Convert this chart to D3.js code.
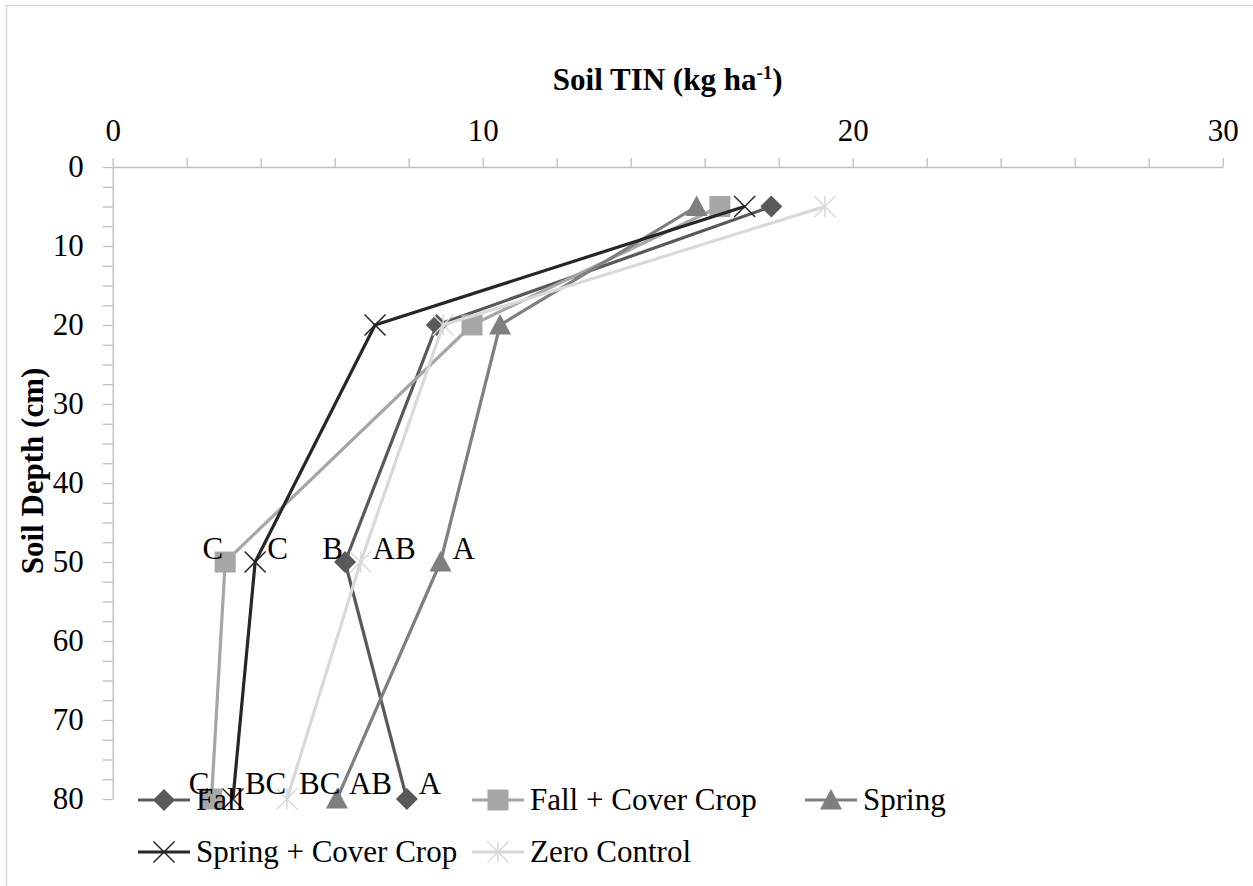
<!DOCTYPE html>
<html>
<head>
<meta charset="utf-8">
<script src="https://cdn.jsdelivr.net/npm/d3@7"></script>
<style>
  body { margin: 0; background: #fff; }
  svg { display: block; font-family: "Liberation Serif", "Times New Roman", serif; }
  .axis path, .axis line { stroke: #bfbfbf; stroke-width: 1.3; }
  .axis text { font-size: 31px; fill: #000; font-family: "Liberation Serif", serif; }
</style>
</head>
<body>
<svg id="chart" width="1253" height="886"></svg>
<script>
const depths = [5, 20, 50, 80];
const seriesNames = ["Fall", "Fall + Cover Crop", "Spring", "Spring + Cover Crop", "Zero Control"];
const fallTin = [17.8, 8.76, 6.28, 7.95];
const fallCcTin = [16.41, 9.71, 3.04, 2.67];
const springTin = [15.78, 10.47, 8.86, 6.06];
const springCcTin = [17.08, 7.09, 3.85, 3.25];
const zeroTin = [19.25, 8.93, 6.7, 4.71];
const xTicks = [0, 10, 20, 30];
const yTicks = [0, 10, 20, 30, 40, 50, 60, 70, 80];
// significance letters: [series index, depth index, letter]
const letters = [
  [1, 2, "C"], [3, 2, "C"], [0, 2, "B"], [4, 2, "AB"], [2, 2, "A"],
  [1, 3, "C"], [3, 3, "BC"], [4, 3, "BC"], [2, 3, "AB"], [0, 3, "A"]
];

const colors = ["#595959", "#a6a6a6", "#7f7f7f", "#262626", "#d9d9d9"];
const markers = ["diamond", "square", "triangle", "x", "star"];
const allValues = [fallTin, fallCcTin, springTin, springCcTin, zeroTin];

const svg = d3.select("#chart");
const x = d3.scaleLinear().domain([0, 30]).range([112.7, 1222.7]);
const y = d3.scaleLinear().domain([0, 80]).range([167, 799]);

// outer chart border
svg.append("rect")
  .attr("x", 6.5).attr("y", 5.5)
  .attr("width", 1400).attr("height", 1000)
  .attr("fill", "none").attr("stroke", "#d9d9d9").attr("stroke-width", 1.5);

svg.append("g")
  .attr("class", "axis")
  .attr("transform", `translate(0, ${y(0)})`)
  .call(d3.axisTop(x)
    .tickValues(d3.range(0, 31, 2))
    .tickSize(9).tickSizeOuter(0).tickPadding(17)
    .tickFormat(d => xTicks.includes(d) ? d : ""));

svg.append("g")
  .attr("class", "axis")
  .attr("transform", `translate(${x(0)}, 0)`)
  .call(d3.axisLeft(y)
    .tickValues(d3.range(0, 80.1, 2.5))
    .tickSize(10).tickSizeOuter(0).tickPadding(19)
    .tickFormat(d => yTicks.includes(d) ? d : ""));

// titles
const xTitle = svg.append("text")
  .attr("x", (x(0) + x(30)) / 2)
  .attr("y", 90)
  .attr("text-anchor", "middle")
  .attr("font-size", 31)
  .attr("font-weight", "bold");
xTitle.append("tspan").text("Soil TIN (kg ha");
xTitle.append("tspan").attr("font-size", 19).attr("dy", -11).text("-1");
xTitle.append("tspan").attr("dy", 11).text(")");

svg.append("text")
  .attr("transform", `translate(43, ${(y(0) + y(80)) / 2 - 12}) rotate(-90)`)
  .attr("text-anchor", "middle")
  .attr("font-size", 31)
  .attr("font-weight", "bold")
  .text("Soil Depth (cm)");

function drawMarker(g, type, color) {
  const r = 11;
  if (type === "diamond") {
    g.append("path").attr("d", `M0,${-r}L${r},0L0,${r}L${-r},0Z`).attr("fill", color);
  } else if (type === "square") {
    g.append("rect").attr("x", -10.5).attr("y", -10.5).attr("width", 21).attr("height", 21).attr("fill", color);
  } else if (type === "triangle") {
    g.append("path").attr("d", `M0,-11L11,9.5L-11,9.5Z`).attr("fill", color);
  } else {
    const rr = 10.5;
    let d = `M${-rr},${-rr}L${rr},${rr}M${-rr},${rr}L${rr},${-rr}`;
    if (type === "star") d += `M0,${-rr}L0,${rr}`;
    g.append("path").attr("d", d).attr("stroke", color).attr("stroke-width", 1.5).attr("fill", "none");
  }
}

const line = d3.line().x(d => x(d[0])).y(d => y(d[1]));

allValues.forEach((vals, i) => {
  const pts = vals.map((v, j) => [v, depths[j]]);
  const g = svg.append("g");
  g.append("path")
    .attr("d", line(pts))
    .attr("fill", "none")
    .attr("stroke", colors[i])
    .attr("stroke-width", 3.2)
    .attr("stroke-linejoin", "round");
  pts.forEach(p => {
    const m = g.append("g").attr("transform", `translate(${x(p[0])}, ${y(p[1])})`);
    drawMarker(m, markers[i], colors[i]);
  });
});

// letter labels: Fall + Cover Crop and "B" of Fall sit to the left
svg.append("g")
  .selectAll("text")
  .data(letters)
  .join("text")
  .attr("font-size", 31)
  .attr("fill", "#000")
  .each(function(d) {
    const px = x(allValues[d[0]][d[1]]);
    const py = y(depths[d[1]]);
    const left = d[0] === 1 || (d[0] === 0 && d[1] === 2);
    d3.select(this)
      .attr("x", left ? px - 2 : px + 12)
      .attr("y", py - (d[1] === 3 ? 5 : 3))
      .attr("text-anchor", left ? "end" : "start")
      .text(d[2]);
  });

// legend
const legendCols = [138, 472, 805];
const legendRows = [800, 852];
seriesNames.forEach((name, i) => {
  const lx = legendCols[i % 3];
  const ly = legendRows[Math.floor(i / 3)];
  const g = svg.append("g").attr("transform", `translate(${lx}, ${ly})`);
  g.append("line").attr("x1", 0).attr("x2", 52).attr("y1", 0).attr("y2", 0)
    .attr("stroke", colors[i]).attr("stroke-width", 3.2);
  drawMarker(g.append("g").attr("transform", "translate(26, 0)"), markers[i], colors[i]);
  g.append("text")
    .attr("x", 58).attr("y", 10)
    .attr("font-size", 31)
    .text(name);
});
</script>
</body>
</html>
